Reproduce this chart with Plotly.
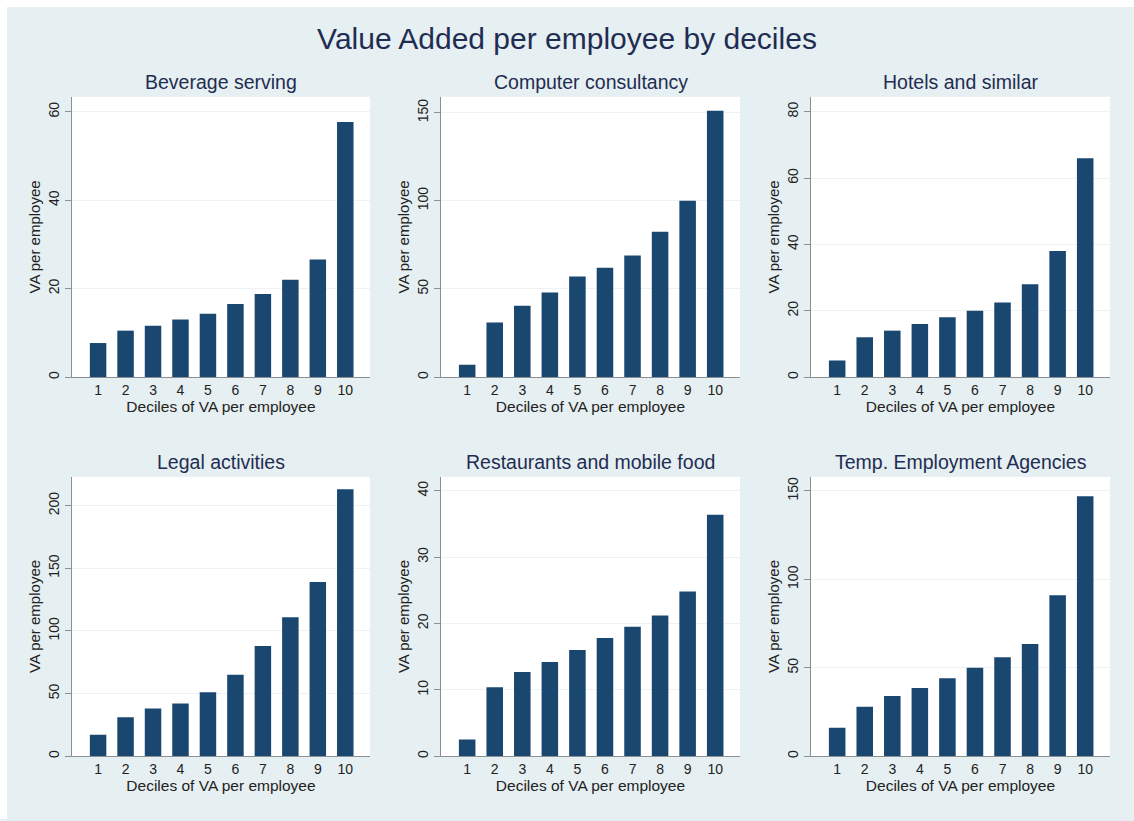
import plotly.graph_objects as go
from plotly.subplots import make_subplots

W, H = 1134, 821

deciles = [1, 2, 3, 4, 5, 6, 7, 8, 9, 10]
titles = ["Beverage serving", "Computer consultancy", "Hotels and similar",
          "Legal activities", "Restaurants and mobile food", "Temp. Employment Agencies"]
beverage = [7.7, 10.5, 11.6, 13.0, 14.3, 16.5, 18.8, 22.0, 26.6, 57.7]
computer = [7.0, 31.0, 40.5, 48.0, 57.0, 62.0, 69.0, 82.5, 100.0, 151.0]
hotels = [5.0, 12.0, 14.0, 16.0, 18.0, 20.0, 22.5, 28.0, 38.0, 66.0]
legal = [17.0, 31.0, 38.0, 42.0, 51.0, 65.0, 88.0, 111.0, 139.0, 213.0]
restaurants = [2.5, 10.4, 12.7, 14.2, 16.0, 17.8, 19.5, 21.2, 24.8, 36.4]
temp = [16.0, 28.0, 34.0, 38.5, 44.0, 50.0, 56.0, 63.5, 91.0, 147.0]
series = [beverage, computer, hotels, legal, restaurants, temp]
y_max = [63.4, 159, 84.5, 223, 42.1, 158]
y_dtick = [20, 50, 20, 50, 10, 50]

BAR = "#1a476f"
NAVY = "#1f2d52"
BG = "#e6eff1"
FONT = "Liberation Sans, Arial, sans-serif"

fig = make_subplots(rows=2, cols=3)

x_px = [(72, 370), (441, 740), (811, 1110)]
y_px = [(97, 378), (478, 758)]

for i, (t, vals) in enumerate(zip(titles, series)):
    r, c = i // 3 + 1, i % 3 + 1
    fig.add_trace(go.Bar(x=deciles, y=vals, marker=dict(color=BAR, line=dict(width=0)),
                         width=0.6, showlegend=False), row=r, col=c)
    x0, x1 = x_px[c - 1]
    y0, y1 = y_px[r - 1]
    xd = [x0 / W, x1 / W]
    yd = [1 - y1 / H, 1 - y0 / H]
    fig.update_xaxes(domain=xd, range=[0.05, 10.9], tickvals=deciles,
                     ticks="", showgrid=False, showline=True, linecolor="#8a8f93",
                     linewidth=1.2, zeroline=False,
                     tickfont=dict(size=14, color="#222", family=FONT),
                     title=dict(text="Deciles of VA per employee", standoff=4,
                                font=dict(size=15.5, color="#222", family=FONT)),
                     row=r, col=c)
    fig.update_yaxes(domain=yd, range=[0, y_max[i]], dtick=y_dtick[i], tick0=0,
                     ticks="outside", ticklen=6, tickcolor="#8a8f93", tickwidth=1,
                     tickangle=-90, showgrid=True, gridcolor="#edf3f5", gridwidth=1,
                     showline=True, linecolor="#8a8f93", linewidth=1, zeroline=False,
                     tickfont=dict(size=14, color="#222", family=FONT),
                     title=dict(text="VA per employee", standoff=2,
                                font=dict(size=15, color="#222", family=FONT)),
                     row=r, col=c)
    fig.add_annotation(text=t, x=(xd[0] + xd[1]) / 2, y=yd[1], xref="paper", yref="paper",
                       xanchor="center", yanchor="bottom", yshift=2, showarrow=False,
                       font=dict(size=19.5, color=NAVY, family=FONT))

# thin white border along the top and left edges of the picture
fig.add_shape(type="rect", xref="paper", yref="paper", x0=0, x1=7 / W, y0=0, y1=1,
              fillcolor="white", line=dict(width=0), layer="below")
fig.add_shape(type="rect", xref="paper", yref="paper", x0=0, x1=1, y0=1 - 7 / H, y1=1,
              fillcolor="white", line=dict(width=0), layer="below")

fig.update_layout(
    width=W, height=H,
    margin=dict(l=0, r=0, t=0, b=0),
    paper_bgcolor=BG,
    plot_bgcolor="white",
    title=dict(text="Value Added per employee by deciles", x=0.5, xanchor="center",
               y=1 - 38 / H, yanchor="middle",
               font=dict(size=30, color=NAVY, family=FONT)),
    font=dict(family=FONT),
)

fig.write_html("out.html")
